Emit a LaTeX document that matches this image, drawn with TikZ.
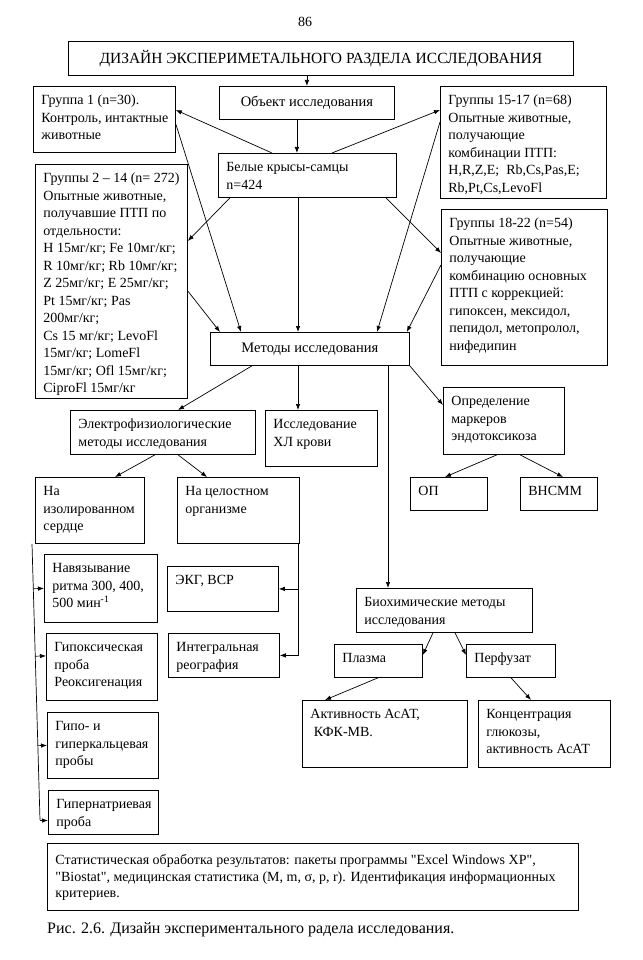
\documentclass[tikz,border=0pt]{standalone}
\usepackage{fontspec}
\setmainfont{Liberation Serif}
\usepackage{tikz}
\usetikzlibrary{arrows.meta,calc}

% text of a box: [top pad]{width}{height}{lines}
\newcommand{\boxtxt}[4][6pt]{\parbox[c][#3pt][t]{#2pt}{\vspace*{#1}\hspace*{8pt}\begin{tabular}[t]{@{}l@{}}#4\end{tabular}}}

\begin{document}
\begin{tikzpicture}[x=1pt, y=-1pt,
  font=\fontsize{14}{17.5}\selectfont,
  box/.style={draw, line width=0.8pt, inner sep=0pt, anchor=north west},
  cbox/.style={draw, line width=0.8pt, inner sep=0pt, anchor=north west, align=center},
  arr/.style={-{Latex[length=6pt, width=4.5pt]}, line width=0.7pt},
  line/.style={line width=0.7pt}]

\useasboundingbox (0,0) rectangle (642,960);

% page number
\node (pnum) at (305,22) {86};

% title and object

\node[cbox, minimum width=505, minimum height=34, font=\fontsize{15.5}{18}\selectfont] (title) at (68,41) {ДИЗАЙН ЭКСПЕРИМЕТАЛЬНОГО РАЗДЕЛА ИССЛЕДОВАНИЯ};
\node[cbox, minimum width=175, minimum height=33, font=\fontsize{14.5}{17.5}\selectfont] (obj) at (219,86) {Объект исследования};
\node[box] (rats) at (218,153) {\boxtxt{178}{44}{Белые крысы-самцы\\n=424}};

% groups of animals

\node[box] (g1) at (33,86) {\boxtxt{142}{66}{Группа 1 (n=30).\\Контроль, интактные\\животные}};
\node[box] (g2) at (35,164) {\boxtxt{152}{234}{Группы 2 – 14 (n= 272)\\Опытные животные,\\получавшие ПТП по\\отдельности:\\H 15мг/кг; Fe 10мг/кг;\\R 10мг/кг; Rb 10мг/кг;\\Z 25мг/кг; E 25мг/кг;\\Pt 15мг/кг; Pas\\200мг/кг;\\Cs 15 мг/кг; LevoFl\\15мг/кг; LomeFl\\15мг/кг; Ofl 15мг/кг;\\CiproFl 15мг/кг}};
\node[box] (g15) at (440,86) {\boxtxt{166}{112}{Группы 15-17 (n=68)\\Опытные животные,\\получающие\\комбинации ПТП:\\H,R,Z,E;\ \ Rb,Cs,Pas,E;\\Rb,Pt,Cs,LevoFl}};
\node[box] (g18) at (441,209) {\boxtxt{166}{156}{Группы 18-22 (n=54)\\Опытные животные,\\получающие\\комбинацию основных\\ПТП с коррекцией:\\гипоксен, мексидол,\\пепидол, метопролол,\\нифедипин}};

% methods

\node[cbox, minimum width=199, minimum height=33, font=\fontsize{14.5}{17.5}\selectfont] (meth) at (210,332) {Методы исследования};
\node[box] (elec) at (70,410) {\boxtxt{185}{44}{Электрофизиологические\\методы исследования}};
\node[box] (chl) at (265,410) {\boxtxt{112}{56}{Исследование\\ХЛ крови}};
\node[box] (opred) at (443,387) {\boxtxt{121}{67}{Определение\\маркеров\\эндотоксикоза}};
\node[box] (op) at (410,477) {\boxtxt{77}{33}{ОП}};
\node[box] (vnsmm) at (520,477) {\boxtxt{77}{33}{ВНСММ}};

% electrophysiology

\node[box] (isol) at (35,477) {\boxtxt{109}{66}{На\\изолированном\\сердце}};
\node[box] (whole) at (177,477) {\boxtxt{122}{66}{На целостном\\организме}};
\node[box] (navyaz) at (44,554) {\boxtxt{113}{68}{Навязывание\\ритма 300, 400,\\500 мин\textsuperscript{-1}}};
\node[box] (hypox) at (46,633) {\boxtxt{111}{67}{Гипоксическая\\проба\\Реоксигенация}};
\node[box] (hypoca) at (47,712) {\boxtxt{111}{66}{Гипо- и\\гиперкальцевая\\пробы}};
\node[box] (hypona) at (48,790) {\boxtxt{110}{44}{Гипернатриевая\\проба}};
\node[box] (ekg) at (167,566) {\boxtxt{111}{45}{ЭКГ, ВСР}};
\node[box] (reo) at (168,633) {\boxtxt{111}{44}{Интегральная\\реография}};

% biochemistry

\node[box] (biochem) at (356,588) {\boxtxt{176}{44}{Биохимические методы\\исследования}};
\node[box] (plasma) at (334,644) {\boxtxt{88}{33}{Плазма}};
\node[box] (perf) at (466,644) {\boxtxt{89}{33}{Перфузат}};
\node[box] (act) at (302,700) {\boxtxt{165}{67}{Активность АсАТ,\\\ КФК-МВ.}};
\node[box] (conc) at (478,700) {\boxtxt{132}{67}{Концентрация\\глюкозы,\\активность АсАТ}};

% statistics and caption

\node[box, font=\fontsize{14}{16.5}\selectfont] (stats) at (47,843) {\boxtxt[10pt]{531}{67}{Статистическая обработка результатов: пакеты программы \textquotedbl Excel Windows XP\textquotedbl,\\\textquotedbl Biostat\textquotedbl, медицинская статистика (M, m, σ, p, r). Идентификация информационных\\критериев.}};
\node[anchor=base west, inner sep=0pt, font=\fontsize{16}{19}\selectfont] (caption) at (47,933) {Рис. 2.6. Дизайн экспериментального радела исследования.};

% object to rats
\draw [arr] (obj.north |- title.south) -- (obj.north);
\draw [arr] ([xshift=-10pt]obj.south) -- ([xshift=-10pt]obj.south |- rats.north);

% rats to groups
\draw [arr] ([xshift=54pt]rats.north west) -- ([yshift=-24pt]g1.north east);
\draw [arr] ([xshift=114pt]rats.north west) -- ([yshift=-24pt]g15.north west);
\draw [arr] ([xshift=12pt]rats.south west) -- ([yshift=-77pt]g2.north east);
\draw [arr] ([xshift=-11pt]rats.south east) -- ([yshift=-44pt]g18.north west);

% into methods
\draw [arr] ([xshift=80pt]rats.south west) -- ([xshift=80pt]rats.south west |- meth.north);
\draw [arr] ([yshift=-38pt]g1.north east) -- ([xshift=31pt]meth.north west);
\draw [arr] ([yshift=-127pt]g2.north east) -- ([xshift=10pt]meth.north west);
\draw [arr] ([yshift=-36pt]g15.north west) -- ([xshift=167pt]meth.north west);
\draw [arr] ([yshift=-56pt]g18.north west) -- ([xshift=-3pt]meth.north east);

% out of methods
\draw [arr] ([xshift=42pt]meth.south west) -- ([xshift=108pt]elec.north west);
\draw [arr] ([xshift=88pt]meth.south west) -- ([xshift=88pt]meth.south west |- chl.north);
\draw [arr] ([xshift=178pt]meth.south west) -- ([xshift=178pt]meth.south west |- biochem.north);
\draw [arr] (meth.south east) -- ([yshift=-18pt]opred.north west);

% markers
\draw [arr] ([xshift=54pt]opred.south west) -- ([xshift=35pt]op.north west);
\draw [arr] ([xshift=77pt]opred.south west) -- ([xshift=43pt]vnsmm.north west);

% electrophysiology
\draw [arr] ([xshift=85pt]elec.south west) -- ([xshift=80pt]isol.north west);
\draw [arr] ([xshift=108pt]elec.south west) -- ([xshift=30pt]whole.north west);

% isolated heart
\coordinate (sptop) at ([xshift=-3pt]isol.south west);
\coordinate (spbot) at (40,820);
\draw [line] (sptop) -- (spbot);
\draw [arr] ($(sptop)!(navyaz.west)!(spbot)$) -- (navyaz.west);
\draw [arr] ($(sptop)!([yshift=11pt]hypox.west)!(spbot)$) -- ([yshift=11pt]hypox.west);
\draw [arr] ($(sptop)!(hypoca.west)!(spbot)$) -- (hypoca.west);
\draw [arr] ($(sptop)!([yshift=-8pt]hypona.west)!(spbot)$) -- ([yshift=-8pt]hypona.west);

% whole organism
\coordinate (wsp) at ([xshift=-1pt]whole.south east);
\draw [arr] (wsp) |- (reo.east);
\draw [arr] (wsp |- ekg.east) -- (ekg.east);

% biochemistry
\draw [arr] ([xshift=77pt]biochem.south west) -- ([yshift=-11pt]plasma.north east);
\draw [arr] ([xshift=99pt]biochem.south west) -- ([yshift=-11pt]perf.north west);
\draw [arr] ([xshift=44pt]plasma.south west) -- ([xshift=23pt]act.north west);
\draw [arr] ([xshift=45pt]perf.south west) -- ([xshift=53pt]conc.north west);

\end{tikzpicture}
\end{document}
